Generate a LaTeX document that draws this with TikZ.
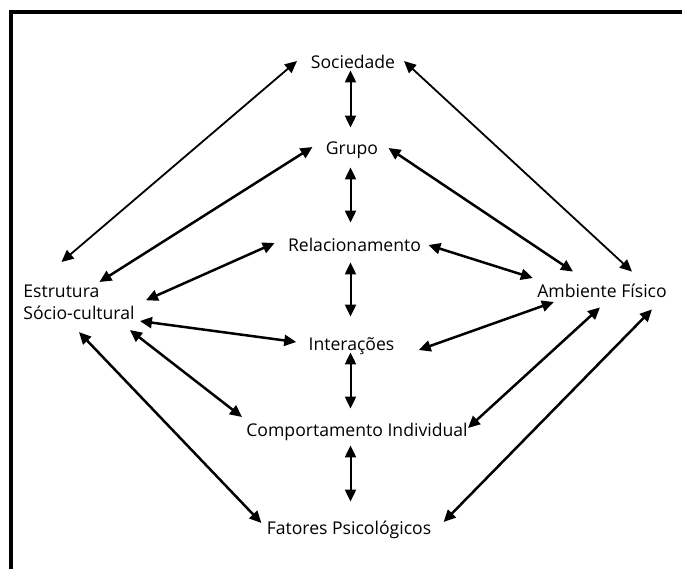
\documentclass[tikz,border=0pt]{standalone}
\usepackage{fontspec}
\setmainfont{Open Sans}
\usetikzlibrary{arrows.meta}

\begin{document}
\begin{tikzpicture}[x=0.5pt,y=-0.5pt]
\tikzstyle{termo}=[inner sep=0pt, text height=6.5pt, text depth=2pt, font=\fontsize{8.8}{11}\selectfont]
\tikzstyle{seta}=[{Triangle[length=6pt,width=5.5pt]}-{Triangle[length=6pt,width=5.5pt]}, line width=1.25pt]
\tikzstyle{setafina}=[seta, line width=0.9pt]
\tikzstyle{setavert}=[seta, line width=1pt]
\useasboundingbox (0,0) rectangle (682,569);
\draw[line width=2pt] (11,569) -- (11,11.5) -- (682,11.5);

\node[termo] (soc) at (353,63.5) {Sociedade};
\node[termo] (grp) at (352,149.5) {Grupo};
\node[termo] (rel) at (354.5,246.5) {Relacionamento};
\node[termo] (int) at (351.5,345.5) {Interações};
\node[termo] (comp) at (357,431.5) {Comportamento Individual};
\node[termo] (fat) at (349,529.5) {Fatores Psicológicos};
\node[termo] (amb) at (602,292.5) {Ambiente Físico};
\node[inner sep=0pt, align=left, anchor=north west, font=\fontsize{8.8}{11}\selectfont] (estr) at (23,284.5) {Estrutura\\Sócio-cultural};

\path[setavert]
([shift={(-2.5,-2)}]soc.south) edge ([shift={(-1.5,-13)}]grp.north)
([shift={(-1.5,9)}]grp.south) edge ([shift={(-4,-15)}]rel.north)
([shift={(-4,7)}]rel.south) edge ([shift={(-1,-20)}]int.north)
([shift={(-1,-2)}]int.south) edge ([shift={(-6.5,-14)}]comp.north)
([shift={(-6.5,5)}]comp.south) edge ([shift={(1.5,-19)}]fat.north);

\path[setafina]
([shift={(-17.5,-22.5)}]estr.north) edge ([shift={(-13.5,-2.5)}]soc.west)
([shift={(8.5,-2.5)}]soc.east) edge ([shift={(30,-12)}]amb.north);

\path[seta]
([shift={(20.5,-2.5)}]estr.north) edge ([shift={(-13,-2.5)}]grp.west)
([shift={(11,-2)}]estr.east) edge ([shift={(-13,-3.5)}]rel.west)
([shift={(5,1)}]estr.south east) edge ([shift={(-12,-3.5)}]int.west)
([shift={(-5,10)}]estr.south east) edge ([shift={(-4,-14.5)}]comp.west)
([shift={(0,12)}]estr.south) edge ([shift={(-5,-6.5)}]fat.west)
([shift={(10,-1.5)}]grp.east) edge ([shift={(-29,-12)}]amb.north)
([shift={(7,-1.5)}]rel.east) edge ([shift={(-4,-14.5)}]amb.west)
([shift={(24,4.5)}]int.east) edge ([shift={(17,9.5)}]amb.west)
([shift={(0,-3.5)}]comp.east) edge ([shift={(-2,6)}]amb.south)
([shift={(12,-7.5)}]fat.east) edge ([shift={(50,8)}]amb.south);

\end{tikzpicture}
\end{document}
